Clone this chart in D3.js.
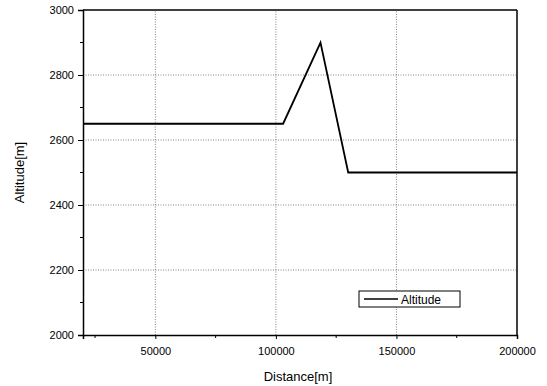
<!DOCTYPE html>
<html>
<head>
<meta charset="utf-8">
<script src="https://cdn.jsdelivr.net/npm/d3@7"></script>
<style>
  body { margin: 0; background: #fff; }
  text { font-family: "Liberation Sans", Arial, sans-serif; }
</style>
</head>
<body>
<div id="chart"></div>
<script>
// data
const distance = [20000, 103000, 118500, 130000, 200000];
const altitude = [2650, 2650, 2900, 2500, 2500];
const xTicks = [50000, 100000, 150000, 200000];
const yTicks = [2000, 2200, 2400, 2600, 2800, 3000];
const seriesName = 'Altitude';

const width = 547, height = 386;
const margin = { top: 10, right: 30, bottom: 51, left: 83 };

const data = distance.map((d, i) => ({ x: d, y: altitude[i] }));

const x = d3.scaleLinear()
  .domain([20000, 200000])
  .range([margin.left, width - margin.right]);

const y = d3.scaleLinear()
  .domain([2000, 3000])
  .range([height - margin.bottom, margin.top]);

const svg = d3.select('#chart')
  .append('svg').attr('width', width).attr('height', height);

// dotted grid
svg.append('g')
  .selectAll('line')
  .data(xTicks.filter(d => d < 200000))
  .join('line')
  .attr('x1', d => x(d)).attr('x2', d => x(d))
  .attr('y1', y(2000)).attr('y2', y(3000))
  .attr('stroke', '#666').attr('stroke-width', 0.8)
  .attr('stroke-dasharray', '1,1.5');

svg.append('g')
  .selectAll('line')
  .data(yTicks.filter(d => d > 2000 && d < 3000))
  .join('line')
  .attr('x1', x(20000)).attr('x2', x(200000))
  .attr('y1', d => y(d)).attr('y2', d => y(d))
  .attr('stroke', '#666').attr('stroke-width', 0.8)
  .attr('stroke-dasharray', '1,1.5');

// axes
const xAxis = g => g
  .attr('transform', `translate(0,${y(2000)})`)
  .call(d3.axisBottom(x).tickValues(xTicks).tickFormat(d3.format('d')).tickSize(4).tickPadding(8))
  .call(g => g.select('.domain').attr('stroke-width', 1.5))
  .call(g => g.selectAll('text').attr('font-size', 11).attr('fill', '#000'));

const yAxis = g => g
  .attr('transform', `translate(${x(20000)},0)`)
  .call(d3.axisLeft(y).tickValues(yTicks).tickFormat(d3.format('d')).tickSize(5).tickPadding(4))
  .call(g => g.select('.domain').attr('stroke-width', 1.5))
  .call(g => g.selectAll('text').attr('font-size', 11).attr('fill', '#000'));

svg.append('g').call(xAxis);
svg.append('g').call(yAxis);

// minor ticks
svg.append('g')
  .selectAll('line')
  .data(d3.range(25000, 200000, 50000))
  .join('line')
  .attr('x1', d => x(d)).attr('x2', d => x(d))
  .attr('y1', y(2000)).attr('y2', y(2000) + 3)
  .attr('stroke', '#000');

svg.append('g')
  .selectAll('line')
  .data(d3.range(2100, 3000, 200))
  .join('line')
  .attr('x1', x(20000) - 3).attr('x2', x(20000))
  .attr('y1', d => y(d)).attr('y2', d => y(d))
  .attr('stroke', '#000');

// top and right frame
svg.append('line')
  .attr('x1', x(20000)).attr('x2', x(200000))
  .attr('y1', y(3000)).attr('y2', y(3000))
  .attr('stroke', '#000').attr('stroke-width', 1.5);
svg.append('line')
  .attr('x1', x(200000)).attr('x2', x(200000))
  .attr('y1', y(3000)).attr('y2', y(2000))
  .attr('stroke', '#000').attr('stroke-width', 1.5);

// series
const line = d3.line().x(d => x(d.x)).y(d => y(d.y));
svg.append('path')
  .datum(data)
  .attr('fill', 'none')
  .attr('stroke', '#000')
  .attr('stroke-width', 1.8)
  .attr('stroke-linejoin', 'miter')
  .attr('d', line);

// axis titles
svg.append('text')
  .attr('x', (x(20000) + x(200000)) / 2 - 2)
  .attr('y', 381)
  .attr('text-anchor', 'middle')
  .attr('font-size', 13)
  .text('Distance[m]');

svg.append('text')
  .attr('transform', `translate(24,${(y(2000) + y(3000)) / 2}) rotate(-90)`)
  .attr('text-anchor', 'middle')
  .attr('font-size', 13)
  .text('Altitude[m]');

// legend
const legend = svg.append('g').attr('transform', 'translate(359,291)');
legend.append('rect')
  .attr('width', 101).attr('height', 16)
  .attr('fill', '#fff').attr('stroke', '#000').attr('stroke-width', 1);
legend.append('line')
  .attr('x1', 5).attr('x2', 39).attr('y1', 8).attr('y2', 8)
  .attr('stroke', '#000').attr('stroke-width', 1.5);
legend.append('text')
  .attr('x', 42).attr('y', 12.5)
  .attr('font-size', 12)
  .text(seriesName);
</script>
</body>
</html>
